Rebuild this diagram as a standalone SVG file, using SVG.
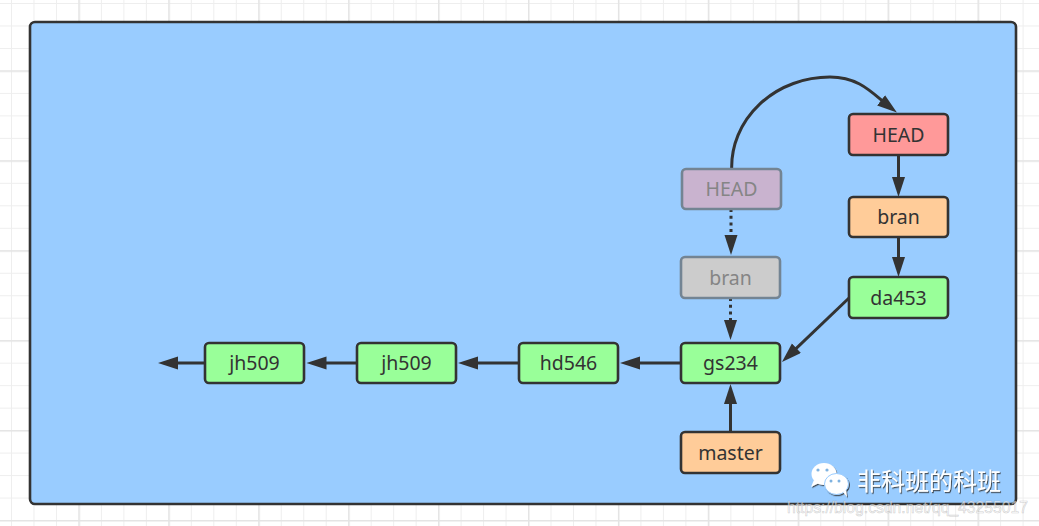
<svg xmlns="http://www.w3.org/2000/svg" width="1039" height="526" viewBox="0 0 1039 526">
<style>
.node rect{stroke:#333;stroke-width:2.6}
.node text{font-family:"Noto Sans","Open Sans","Liberation Sans",sans-serif;font-size:19.5px;fill:#333;text-anchor:middle}
.faded rect{stroke:#738493}
.faded text{fill:#858585}
.green{fill:#99ff99}
.orange{fill:#ffcc99}
.red{fill:#ff9999}
.edge{stroke:#333;stroke-width:3;fill:none;marker-end:url(#arr)}
.dot{stroke-dasharray:3 3.7}
</style>
<defs>
<pattern id="g1" patternUnits="userSpaceOnUse" x="11" y="3" width="22.48" height="22.48">
<path d="M0.5,0 V22.48 M0,0.5 H22.48" stroke="#eeeeee" stroke-width="1" fill="none"/>
</pattern>
<pattern id="g2" patternUnits="userSpaceOnUse" x="78.4" y="70.4" width="89.92" height="89.92">
<path d="M0.75,0 V89.92 M0,0.75 H89.92" stroke="#e4e4e4" stroke-width="1.5" fill="none"/>
</pattern>
<marker id="arr" markerUnits="userSpaceOnUse" markerWidth="22" markerHeight="16" refX="10" refY="6.5" orient="auto">
<path d="M0,0 L20,6.5 L0,13 z" fill="#333"/>
</marker>
<filter id="sh" x="-10%" y="-20%" width="120%" height="150%">
<feDropShadow dx="1" dy="1.2" stdDeviation="0.6" flood-color="#333" flood-opacity="0.8"/>
</filter>
</defs>
<rect width="1039" height="526" fill="#ffffff"/>
<rect width="1039" height="526" fill="url(#g1)"/>
<rect width="1039" height="526" fill="url(#g2)"/>
<rect id="container" x="30" y="22" width="986" height="482" rx="5" fill="#99ccff" stroke="#333" stroke-width="2.6"/>

<g id="connectors">
<path class="edge" d="M205,363 H168"/>
<path class="edge" d="M357,363 H316.5"/>
<path class="edge" d="M519,363 H468"/>
<path class="edge" d="M681,363 H630"/>
<path class="edge" d="M730.5,432 V394"/>
<path class="edge" d="M849,298 L789.2,355.1"/>
<path class="edge dot" d="M730.5,298 V330"/>
<path class="edge dot" d="M731,209 V245"/>
<path class="edge" d="M898.5,155 V187"/>
<path class="edge" d="M898.5,237 V267"/>
<path class="edge" d="M731.7,169 A98.3,90 0 0 1 830,77 C860,77 873,94 889,106.4"/>
</g>

<g id="node-jh509-1" class="node"><rect class="green" x="205" y="343" width="99" height="40" rx="4"/><text x="254.5" y="370">jh509</text></g>
<g id="node-jh509-2" class="node"><rect class="green" x="357" y="343" width="99" height="40" rx="4"/><text x="406.5" y="370">jh509</text></g>
<g id="node-hd546" class="node"><rect class="green" x="519" y="343" width="99" height="40" rx="4"/><text x="568.5" y="370">hd546</text></g>
<g id="node-gs234" class="node"><rect class="green" x="681" y="343" width="99" height="40" rx="4"/><text x="730.5" y="370">gs234</text></g>
<g id="node-master" class="node"><rect class="orange" x="681" y="432" width="99" height="41" rx="4"/><text x="730.5" y="459.5">master</text></g>
<g id="node-bran-old" class="node faded"><rect x="681" y="257" width="99" height="41" rx="4" fill="#cccccc"/><text x="730.5" y="284.5">bran</text></g>
<g id="node-head-old" class="node faded"><rect x="682" y="169" width="99" height="40" rx="4" fill="#c9b3cf"/><text x="731.5" y="196">HEAD</text></g>
<g id="node-head" class="node"><rect class="red" x="849" y="114" width="99" height="41" rx="4"/><text x="898.5" y="141.5">HEAD</text></g>
<g id="node-bran" class="node"><rect class="orange" x="849" y="197" width="99" height="40" rx="4"/><text x="898.5" y="224">bran</text></g>
<g id="node-da453" class="node"><rect class="green" x="849" y="277" width="99" height="41" rx="4"/><text x="898.5" y="304.5">da453</text></g>

<g id="watermark">
<g filter="url(#sh)">
<ellipse cx="824" cy="474" rx="12.5" ry="11" fill="#ffffff"/>
<path d="M814,480 L811,487 L819,483 z" fill="#ffffff"/>
<ellipse cx="836.5" cy="484" rx="12" ry="10.5" fill="#ffffff" stroke="#99ccff" stroke-width="1"/>
<path d="M843,492 L847,497 L846,490 z" fill="#ffffff"/>
</g>
<circle cx="818" cy="470" r="1.6" fill="#7fb2e0"/>
<circle cx="827" cy="470" r="1.6" fill="#7fb2e0"/>
<circle cx="831" cy="481" r="1.5" fill="#7fb2e0"/>
<circle cx="839" cy="481" r="1.5" fill="#7fb2e0"/>
<text x="857" y="490" filter="url(#sh)" style="font-family:'Noto Sans CJK SC',sans-serif;font-size:24px;fill:#ffffff">非科班的科班</text>
<text x="787" y="513" textLength="241" style="font-family:'Liberation Sans',Arial,sans-serif;font-size:15.7px;fill:#ffffff;fill-opacity:0.6;stroke:#888;stroke-opacity:0.4;stroke-width:0.6">https://blog.csdn.net/qq_43255017</text>
</g>
</svg>
